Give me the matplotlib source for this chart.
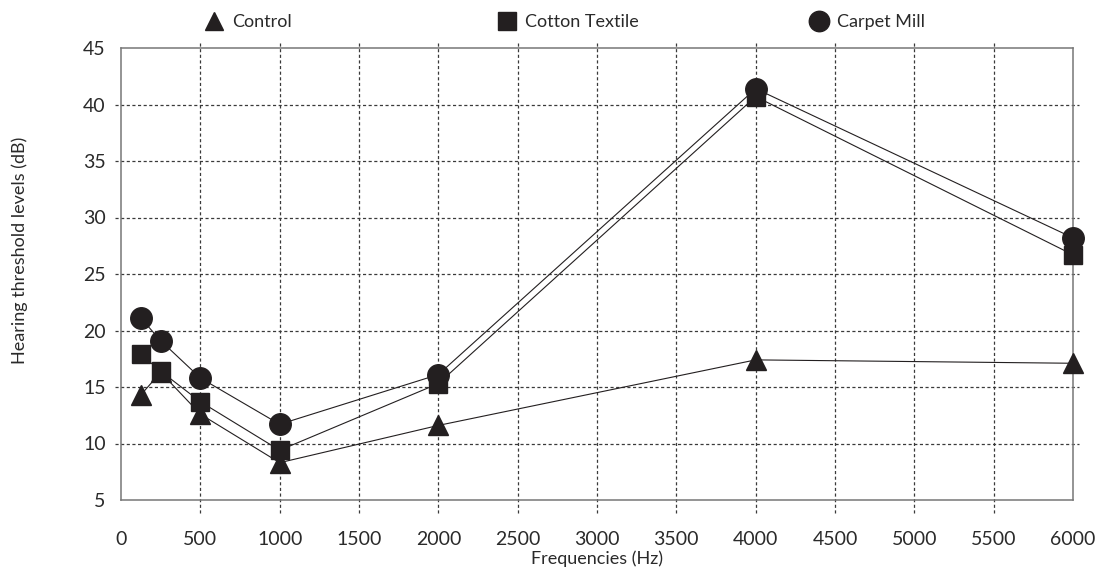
import matplotlib
matplotlib.use('Agg')
import matplotlib.pyplot as plt
from matplotlib.lines import Line2D

freqs = [125, 250, 500, 1000, 2000, 4000, 6000]
control = [14.3, 16.3, 12.6, 8.3, 11.6, 17.4, 17.1]
cotton = [17.9, 16.4, 13.7, 9.4, 15.3, 40.7, 26.7]
carpet = [21.1, 19.1, 15.8, 11.7, 16.1, 41.4, 28.2]
series = [('Control', control, '^', 14), ('Cotton Textile', cotton, 's', 13),
          ('Carpet Mill', carpet, 'o', 15.5)]
xticks = list(range(0, 6001, 500))
yticks = list(range(5, 46, 5))

INK = '#231f20'
GRID = '#3a3a3a'
TXT = '#2a2a2a'

plt.rcParams['font.family'] = ['Lato', 'DejaVu Sans']

fig = plt.figure(figsize=(11.04, 5.72), dpi=100)
ax = fig.add_axes([121 / 1104, 1 - 500 / 572, 952 / 1104, 452 / 572])
ax.set_xlim(0, 6000)
ax.set_ylim(5, 45)

# dashed grid that pokes a little past the frame
for x in xticks[1:-1]:
    ax.axvline(x, ymin=-0.029, ymax=1.013, clip_on=False, color=GRID,
               lw=0.9, ls=(0, (2.5, 2)), zorder=1)
for y in yticks[1:-1]:
    ax.axhline(y, xmin=-0.0065, xmax=1.0065, clip_on=False, color=GRID,
               lw=0.9, ls=(0, (2.5, 2)), zorder=1)

for name, vals, mk, ms in series:
    ax.plot(freqs, vals, color=INK, lw=0.8, marker=mk, ms=ms,
            mfc=INK, mec=INK, label=name, zorder=3, clip_on=False)

ax.set_xticks(xticks)
ax.set_yticks(yticks)
ax.tick_params(length=0, labelsize=14, colors=TXT)
ax.tick_params(axis='x', pad=22)
ax.tick_params(axis='y', pad=11)
for s in ax.spines.values():
    s.set_color('#777777')
    s.set_linewidth(1.1)

ax.set_xlabel('Frequencies (Hz)', fontsize=13, color=TXT, labelpad=2)
ax.set_ylabel('Hearing threshold levels (dB)', fontsize=13, color=TXT)
ax.yaxis.set_label_coords(-0.098, 0.553)

# legend entries spread across the top, markers only
for (name, vals, mk, ms), xpos in zip(series, [205, 498, 810]):
    h = Line2D([], [], ls='none', marker=mk, ms=ms * 0.95, mfc=INK, mec=INK)
    fig.legend(handles=[h], labels=[name], loc='center left', frameon=False,
               fontsize=13, labelcolor=TXT,
               bbox_to_anchor=(xpos / 1104, 1 - 22 / 572), handlelength=1.0,
               handletextpad=0.5, borderaxespad=0, borderpad=0)

fig.savefig('out.png', dpi=100)
